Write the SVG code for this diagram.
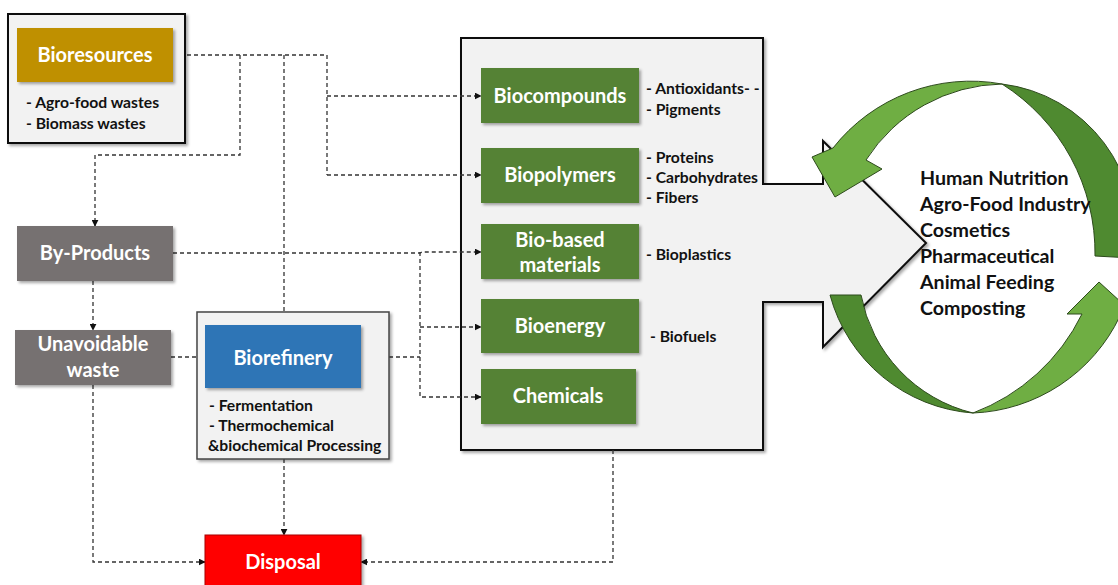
<svg xmlns="http://www.w3.org/2000/svg" width="1118" height="585" viewBox="0 0 1118 585">
<style>
text{font-family:Lato,"Liberation Sans",sans-serif;font-weight:bold}
.w{fill:#fff;font-size:20px;text-anchor:middle}
.k{fill:#111;font-size:15.7px}
.r{fill:#111;font-size:19.6px}
.cn{fill:none;stroke:#333;stroke-width:1.3;stroke-dasharray:4 3}
.panel{fill:#f2f2f2;stroke:#111;stroke-width:2}
.green{fill:#548235}
.lt{fill:#6fae43;stroke:#2d4a1c;stroke-width:1}
.dk{fill:#4f8a30;stroke:#2d4a1c;stroke-width:1}
</style>
<defs>
<filter id="sh" x="-10%" y="-10%" width="130%" height="130%"><feDropShadow dx="2" dy="2" stdDeviation="1.5" flood-opacity="0.35"/></filter>
<marker id="ah" viewBox="0 0 10 10" refX="9" refY="5" markerWidth="7" markerHeight="7" orient="auto" markerUnits="userSpaceOnUse"><path d="M0,0 L10,5 L0,10 Z" fill="#111"/></marker>
</defs>

<g id="products-panel">
<path class="panel" d="M461,38 H763 V184 H823 V141 L926,243 L823,347 V302 H763 V450 H461 Z" filter="url(#sh)"/>
</g>

<g id="cycle-arrows">
<path class="dk" d="M1002,84 A150,150 0 0 1 1132,258 L1095,256 A200,200 0 0 0 1002,84 Z"/>
<path class="lt" d="M1002,84 A175,175 0 0 0 833,148 L812,157 L835,197 L882,169 L866,160 A165,165 0 0 1 1002,84 Z"/>
<path class="dk" d="M830,295 A160,160 0 0 0 973,413 A150,150 0 0 1 861,295 Z"/>
<path class="lt" d="M973,413 A170,170 0 0 0 1120,316 L1134,314 L1099,282 L1067,314 L1082,314 A200,200 0 0 1 973,413 Z"/>
</g>

<g id="connectors">
<path class="cn" d="M173,55 H327"/>
<path class="cn" d="M240,55 V155 H95 V226" marker-end="url(#ah)"/>
<path class="cn" d="M284,55 V312"/>
<path class="cn" d="M327,55 V175"/>
<path class="cn" d="M327,96 H481" marker-end="url(#ah)"/>
<path class="cn" d="M327,175 H481" marker-end="url(#ah)"/>
<path class="cn" d="M173,253 H420 L422,252 H481" marker-end="url(#ah)"/>
<path class="cn" d="M420,252 V397 H481" marker-end="url(#ah)"/>
<path class="cn" d="M420,327 H481" marker-end="url(#ah)"/>
<path class="cn" d="M361,357 H420"/>
<path class="cn" d="M93,281 V330" marker-end="url(#ah)"/>
<path class="cn" d="M171,357 H205" marker-end="url(#ah)"/>
<path class="cn" d="M93,385 V562 H205" marker-end="url(#ah)"/>
<path class="cn" d="M284,459 V535" marker-end="url(#ah)"/>
<path class="cn" d="M613,450 V562 H361" marker-end="url(#ah)"/>
</g>

<g id="bioresources">
<rect class="panel" x="8" y="14" width="177" height="129" filter="url(#sh)"/>
<rect x="17" y="28" width="156" height="54" fill="#bf9000" filter="url(#sh)"/>
<text class="w" x="95" y="62">Bioresources</text>
<text class="k" x="26" y="108">- Agro-food wastes</text>
<text class="k" x="26" y="129">- Biomass wastes</text>
</g>

<g id="by-products">
<rect x="17" y="226" width="156" height="55" fill="#767171" filter="url(#sh)"/>
<text class="w" x="95" y="260">By-Products</text>
</g>

<g id="unavoidable-waste">
<rect x="15" y="330" width="156" height="55" fill="#767171" filter="url(#sh)"/>
<text class="w" x="93" y="351">Unavoidable</text>
<text class="w" x="93" y="377">waste</text>
</g>

<g id="biorefinery">
<rect x="197" y="312" width="192" height="147" fill="#f2f2f2" stroke="#444" stroke-width="1.5" filter="url(#sh)"/>
<rect x="205" y="325" width="156" height="63" fill="#2e75b6" filter="url(#sh)"/>
<text class="w" x="283" y="365">Biorefinery</text>
<text class="k" x="209" y="411">- Fermentation</text>
<text class="k" x="209" y="431">- Thermochemical</text>
<text class="k" x="208" y="451">&amp;biochemical Processing</text>
</g>

<g id="disposal">
<rect x="205" y="535" width="156" height="55" fill="#ff0000" stroke="#a00" stroke-width="1" filter="url(#sh)"/>
<text class="w" x="283" y="569">Disposal</text>
</g>

<g id="biocompounds">
<rect class="green" x="481" y="68" width="158" height="55" filter="url(#sh)"/>
<text class="w" x="560" y="103">Biocompounds</text>
<text class="k" x="646" y="94">- Antioxidants- -</text>
<text class="k" x="646" y="115">- Pigments</text>
</g>

<g id="biopolymers">
<rect class="green" x="481" y="148" width="158" height="55" filter="url(#sh)"/>
<text class="w" x="560" y="182">Biopolymers</text>
<text class="k" x="646" y="163">- Proteins</text>
<text class="k" x="646" y="183">- Carbohydrates</text>
<text class="k" x="646" y="203">- Fibers</text>
</g>

<g id="bio-based-materials">
<rect class="green" x="481" y="224" width="158" height="55" filter="url(#sh)"/>
<text class="w" x="560" y="247">Bio-based</text>
<text class="w" x="560" y="272">materials</text>
<text class="k" x="646" y="260">- Bioplastics</text>
</g>

<g id="bioenergy">
<rect class="green" x="481" y="299" width="158" height="54" filter="url(#sh)"/>
<text class="w" x="560" y="333">Bioenergy</text>
<text class="k" x="650" y="342">- Biofuels</text>
</g>

<g id="chemicals">
<rect class="green" x="481" y="369" width="155" height="55" filter="url(#sh)"/>
<text class="w" x="558" y="403">Chemicals</text>
</g>

<g id="applications">
<text class="r" x="920" y="185">Human Nutrition</text>
<text class="r" x="920" y="211">Agro-Food Industry</text>
<text class="r" x="920" y="237">Cosmetics</text>
<text class="r" x="920" y="263">Pharmaceutical</text>
<text class="r" x="920" y="289">Animal Feeding</text>
<text class="r" x="920" y="315">Composting</text>
</g>
</svg>
